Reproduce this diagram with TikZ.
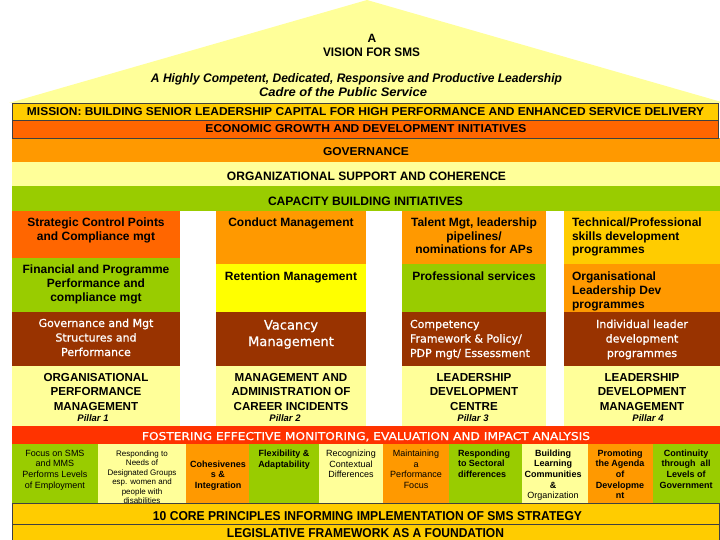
\documentclass[tikz,border=0pt]{standalone}
\usepackage{fontspec}
\setmainfont{Liberation Sans}
\newfontfamily\dvfont[FakeBold=0.8]{DejaVu Sans}
\usepackage{graphicx}
\definecolor{cMission}{HTML}{FFCC00}
\definecolor{cEcon}{HTML}{FF6600}
\definecolor{cGov}{HTML}{FF9900}
\definecolor{cPale}{HTML}{FFFF99}
\definecolor{cGreen}{HTML}{99CC00}
\definecolor{cBrown}{HTML}{993300}
\definecolor{cYellow}{HTML}{FFFF00}
\definecolor{cRed}{HTML}{FF3300}
\newcommand{\fsz}[2]{\fontsize{#1pt}{#2pt}\selectfont}
\newcommand{\tbc}[1]{\begin{tabular}[t]{@{}c@{}}#1\end{tabular}}
\newcommand{\tbl}[1]{\begin{tabular}[t]{@{}l@{}}#1\end{tabular}}
\newcommand{\fitbox}[3]{\resizebox{#1pt}{#2pt}{#3}}
\begin{document}
\begin{tikzpicture}[x=1pt,y=-1pt,
  txt/.style={inner sep=0pt, outer sep=0pt, anchor=base},
  ltxt/.style={inner sep=0pt, outer sep=0pt, anchor=base west},
  bar/.style={draw=black!75, line width=0.6pt},
  pb/.style={font=\fsz{12}{14}\bfseries},
  pcap/.style={font=\fsz{11.6}{14.5}\bfseries},
  pw/.style={font=\fsz{11}{14.5}\dvfont, text=white},
  pil/.style={font=\fsz{9.5}{11}\bfseries\itshape},
  sr/.style={font=\fsz{9}{10.7}},
  sb/.style={font=\fsz{9}{10.7}\bfseries}]
\useasboundingbox (0,0) rectangle (720,540);
\clip (0,0) rectangle (720,540);
\fill[white] (0,0) rectangle (720,540);
% roof
\fill[cPale] (9,103) -- (367,0) -- (725,103) -- cycle;
% horizontal bars
\fill[cGov] (12,138) rectangle (720,162);
\fill[cPale] (12,162) rectangle (720,186);
\fill[cGreen] (12,186) rectangle (720,211);
\filldraw[bar, fill=cMission] (12,103) rectangle (718,120);
\filldraw[bar, fill=cEcon] (12,120) rectangle (718,138);
% pillar column 1
\fill[cEcon] (12,211) rectangle (180,258);
\fill[cGreen] (12,258) rectangle (180,312);
\fill[cBrown] (12,312) rectangle (180,366);
\fill[cPale] (12,366) rectangle (180,426);
% pillar column 2
\fill[cGov] (216,211) rectangle (366,264);
\fill[cYellow] (216,264) rectangle (366,312);
\fill[cBrown] (216,312) rectangle (366,366);
\fill[cPale] (216,366) rectangle (366,426);
% pillar column 3
\fill[cGov] (402,211) rectangle (546,264);
\fill[cGreen] (402,264) rectangle (546,312);
\fill[cBrown] (402,312) rectangle (546,366);
\fill[cPale] (402,366) rectangle (546,426);
% pillar column 4
\fill[cMission] (564,211) rectangle (720,264);
\fill[cGov] (564,264) rectangle (720,312);
\fill[cBrown] (564,312) rectangle (720,366);
\fill[cPale] (564,366) rectangle (720,426);
% fostering bar
\fill[cRed] (12,426) rectangle (720,444);
% principles
\fill[cGreen] (12,444) rectangle (98,503);
\fill[cPale] (98,444) rectangle (186,503);
\fill[cGov] (186,444) rectangle (249,503);
\fill[cGreen] (249,444) rectangle (319,503);
\fill[cPale] (319,444) rectangle (383,503);
\fill[cGov] (383,444) rectangle (449,503);
\fill[cGreen] (449,444) rectangle (522,503);
\fill[cPale] (522,444) rectangle (588,503);
\fill[cGov] (588,444) rectangle (653,503);
\fill[cGreen] (653,444) rectangle (720,503);
% foundation bars
\filldraw[bar, fill=cMission] (12,503) rectangle (719.5,524);
\filldraw[bar, fill=cMission] (12,524) rectangle (719.5,540);

% ---- roof texts
\node[txt, font=\fsz{12}{14}\bfseries] (tA) at (372,43) {A};
\node[txt, font=\bfseries] (tVision) at (371.5,57) {\fitbox{97}{8.6}{VISION FOR SMS}};
\node[txt, font=\bfseries\itshape] (tVis1) at (356.5,83) {\fitbox{411}{9}{A Highly Competent, Dedicated, Responsive and Productive Leadership}};
\node[txt, font=\bfseries\itshape] (tVis2) at (343,96.5) {\fitbox{168}{9}{Cadre of the Public Service}};
% ---- bar texts
\node[txt, font=\bfseries] (tMission) at (365.5,116) {\fitbox{677}{8}{MISSION: BUILDING SENIOR LEADERSHIP CAPITAL FOR HIGH PERFORMANCE AND ENHANCED SERVICE DELIVERY}};
\node[txt, font=\bfseries] (tEcon) at (366,133) {\fitbox{321}{8}{ECONOMIC GROWTH AND DEVELOPMENT INITIATIVES}};
\node[txt, font=\bfseries] (tGov) at (366,156) {\fitbox{86}{8}{GOVERNANCE}};
\node[txt, font=\bfseries] (tOrg) at (366.5,181) {\fitbox{279}{8.5}{ORGANIZATIONAL SUPPORT AND COHERENCE}};
\node[txt, font=\bfseries] (tCap) at (365.5,205) {\fitbox{195}{8.5}{CAPACITY BUILDING INITIATIVES}};
% ---- pillar 1
\node[txt, pb] (p1a) at (96,226) {\tbc{Strategic Control Points\\and Compliance mgt}};
\node[txt, pb] (p1b) at (96,273) {\tbc{Financial and Programme\\Performance and\\compliance mgt}};
\node[txt, pw] (p1c) at (96,327) {\tbc{Governance and Mgt\\Structures and\\Performance}};
\node[txt, pcap] (p1d) at (96,381) {\tbc{ORGANISATIONAL\\PERFORMANCE\\MANAGEMENT}};
\node[txt, pil] (p1e) at (93,421) {Pillar 1};
% ---- pillar 2
\node[txt, pb] (p2a) at (291,226) {Conduct Management};
\node[txt, pb] (p2b) at (291,280) {Retention Management};
\node[txt, font=\fsz{13}{16.5}\dvfont, text=white] (p2c) at (291,329.5) {\tbc{Vacancy\\Management}};
\node[txt, pcap] (p2d) at (291,381) {\tbc{MANAGEMENT AND\\ADMINISTRATION OF\\CAREER INCIDENTS}};
\node[txt, pil] (p2e) at (285,421) {Pillar 2};
% ---- pillar 3
\node[txt, pb] (p3a) at (474,226) {\tbc{Talent Mgt, leadership\\pipelines/\\nominations for APs}};
\node[txt, pb] (p3b) at (474,280) {Professional services};
\node[ltxt, pw] (p3c) at (410,328) {\tbl{Competency\\Framework \& Policy/\\PDP mgt/ Essessment}};
\node[txt, pcap] (p3d) at (474,381) {\tbc{LEADERSHIP\\DEVELOPMENT\\CENTRE}};
\node[txt, pil] (p3e) at (473,421) {Pillar 3};
% ---- pillar 4
\node[ltxt, pb] (p4a) at (572,226) {\tbl{Technical/Professional\\skills development\\programmes}};
\node[ltxt, pb] (p4b) at (572,280) {\tbl{Organisational\\Leadership Dev\\programmes}};
\node[txt, pw] (p4c) at (642,328) {\tbc{Individual leader\\development\\programmes}};
\node[txt, pcap] (p4d) at (642,381) {\tbc{LEADERSHIP\\DEVELOPMENT\\MANAGEMENT}};
\node[txt, pil] (p4e) at (648,421) {Pillar 4};
% ---- fostering
\node[txt, font=\dvfont, text=white] (tFoster) at (366,440) {\fitbox{448}{8}{FOSTERING EFFECTIVE MONITORING, EVALUATION AND IMPACT ANALYSIS}};
% ---- principles
\node[txt, sr] (c1) at (55,456) {\tbc{Focus on SMS\\and MMS\\Performs Levels\\of Employment}};
\node[txt, font=\fsz{8}{9.5}] (c2) at (142,456) {\tbc{Responding to\\Needs of\\Designated Groups\\esp. women and\\people with\\disabilities}};
\node[txt, sb] (c3) at (218,467) {\tbc{Cohesivenes\\s \&\\Integration}};
\node[txt, sb] (c4) at (284,456.5) {\tbc{Flexibility \&\\Adaptability}};
\node[txt, sr] (c5) at (351,456.5) {\tbc{Recognizing\\Contextual\\Differences}};
\node[txt, sr] (c6) at (416,456.5) {\tbc{Maintaining\\a\\Performance\\Focus}};
\node[ltxt, sb] (c7) at (458,456) {\tbl{Responding\\to Sectoral\\differences}};
\node[txt, sb] (c8) at (553,456) {\tbc{Building\\Learning\\Communities\\\&\\\mdseries Organization}};
\node[txt, sb] (c9) at (620,456) {\tbc{Promoting\\the Agenda\\of\\Developme\\nt}};
\node[txt, sb] (c10) at (686,456) {\tbc{Continuity\\through\ \ all\\Levels of\\Government}};
% ---- foundation texts
\node[txt, font=\bfseries] (tCore) at (367.5,520) {\fitbox{429}{9}{10 CORE PRINCIPLES INFORMING IMPLEMENTATION OF SMS STRATEGY}};
\node[txt, font=\bfseries] (tLeg) at (365.5,537) {\fitbox{277}{9}{LEGISLATIVE FRAMEWORK AS A FOUNDATION}};
\end{tikzpicture}
\end{document}
